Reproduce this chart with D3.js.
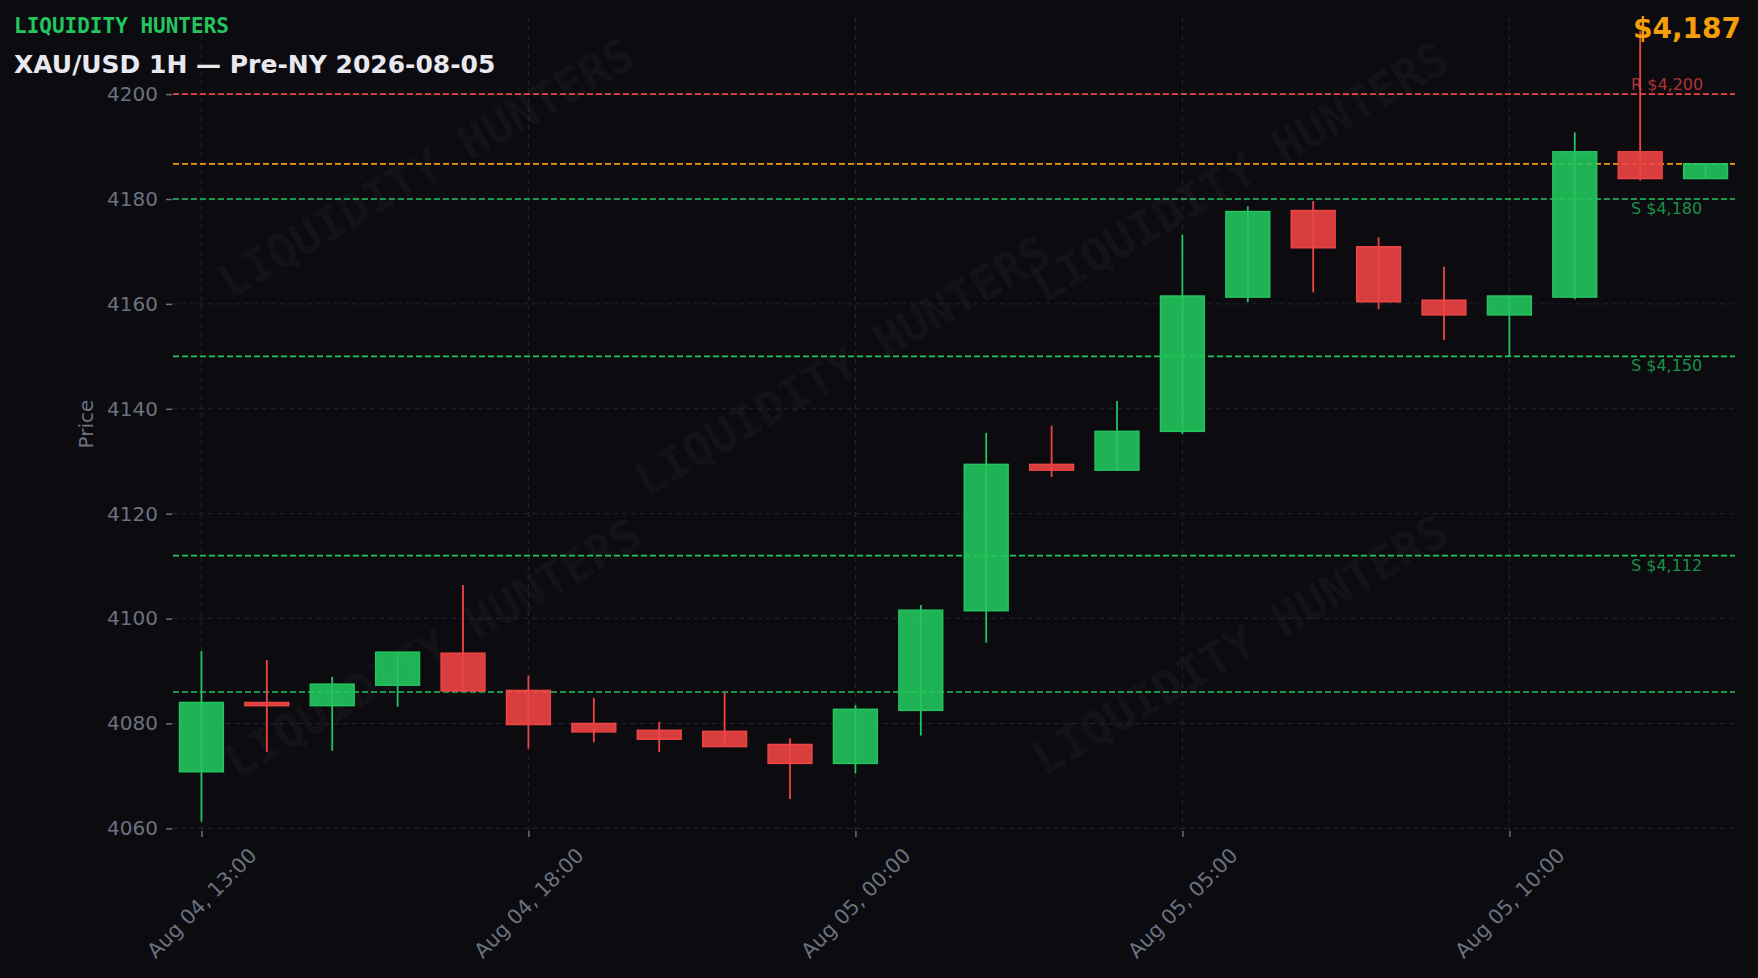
<!DOCTYPE html>
<html>
<head>
<meta charset="utf-8">
<script src="https://cdn.jsdelivr.net/npm/d3@7"></script>
<style>
  html, body { margin: 0; padding: 0; background: #0b0b10; }
  svg { display: block; }
</style>
</head>
<body>
<svg id="chart" width="1758" height="978"></svg>
<script>
// ---------------- DATA ----------------
const times = [
  "Aug 04, 13:00", "Aug 04, 14:00", "Aug 04, 15:00", "Aug 04, 16:00", "Aug 04, 17:00",
  "Aug 04, 18:00", "Aug 04, 19:00", "Aug 04, 20:00", "Aug 04, 22:00", "Aug 04, 23:00",
  "Aug 05, 00:00", "Aug 05, 01:00", "Aug 05, 02:00", "Aug 05, 03:00", "Aug 05, 04:00",
  "Aug 05, 05:00", "Aug 05, 06:00", "Aug 05, 07:00", "Aug 05, 08:00", "Aug 05, 09:00",
  "Aug 05, 10:00", "Aug 05, 11:00", "Aug 05, 12:00", "Aug 05, 13:00"
];
const openP  = [4070.8, 4084.0, 4083.4, 4087.3, 4093.4, 4086.3, 4080.0, 4078.7, 4078.5, 4076.0, 4072.4, 4082.5, 4101.5, 4129.4, 4128.3, 4135.7, 4161.3, 4177.8, 4170.9, 4160.7, 4157.9, 4161.3, 4189.0, 4183.9];
const closeP = [4084.0, 4083.4, 4087.5, 4093.6, 4086.2, 4079.8, 4078.4, 4077.0, 4075.6, 4072.4, 4082.7, 4101.6, 4129.4, 4128.3, 4135.7, 4161.5, 4177.6, 4170.7, 4160.4, 4157.9, 4161.5, 4189.0, 4183.9, 4186.7];
const highP  = [4093.8, 4092.1, 4088.9, 4093.6, 4106.4, 4089.1, 4084.9, 4080.3, 4085.9, 4077.2, 4083.5, 4102.6, 4135.4, 4136.8, 4141.5, 4173.2, 4178.6, 4179.6, 4172.7, 4167.1, 4161.5, 4192.7, 4212.0, 4186.7];
const lowP   = [4061.3, 4074.6, 4074.8, 4083.2, 4086.2, 4075.2, 4076.4, 4074.6, 4075.6, 4065.6, 4070.5, 4077.7, 4095.4, 4127.0, 4128.3, 4135.2, 4160.3, 4162.2, 4159.0, 4153.1, 4150.0, 4160.9, 4183.5, 4183.9];

const yTicks = [4060, 4080, 4100, 4120, 4140, 4160, 4180, 4200];
const xTickLabels = ["Aug 04, 13:00", "Aug 04, 18:00", "Aug 05, 00:00", "Aug 05, 05:00", "Aug 05, 10:00"];

const levelValues = [4200, 4180, 4150, 4112, 4086];
const levelKinds  = ["R", "S", "S", "S", "S"];
const levelLabels = ["R $4,200", "S $4,180", "S $4,150", "S $4,112", ""];
const currentPrice = 4186.7;
const currentPriceLabel = "$4,187";

const brandText = "LIQUIDITY HUNTERS";
const titleText = "XAU/USD 1H \u2014 Pre-NY 2026-08-05";
const yAxisTitle = "Price";
const watermarkCenters = [[426, 168], [842, 366], [1240, 172], [433, 648], [1240, 645]];

// ---------------- STYLE ----------------
const W = 1758, H = 978;
const plot = { left: 172, right: 1735, top: 17, bottom: 831 };
const C = {
  bg: "#0b0b10", grid: "#25252f", axis: "#6b7280",
  up: "#22c55e", down: "#ef4444", orange: "#f59e0b", title: "#e8e8ee"
};
const sans = "'DejaVu Sans', 'Liberation Sans', sans-serif";
const mono = "'DejaVu Sans Mono', 'Liberation Mono', monospace";

const svg = d3.select("#chart");
svg.append("rect").attr("width", W).attr("height", H).attr("fill", C.bg);

const x = d3.scalePoint().domain(times).range([plot.left, plot.right]).padding(0.45);
const y = d3.scaleLinear().domain([4059.5, 4214.7]).range([plot.bottom, plot.top]);
const step = x.step();
const bodyW = step * 0.67;

const candles = times.map((t, i) => ({ t, o: openP[i], c: closeP[i], h: highP[i], l: lowP[i] }));

// watermarks
const wm = svg.append("g");
watermarkCenters.forEach(([cx, cy]) => {
  wm.append("text")
    .attr("transform", `translate(${cx},${cy}) rotate(-30)`)
    .attr("text-anchor", "middle").attr("dominant-baseline", "central")
    .attr("font-family", mono).attr("font-weight", "bold").attr("font-size", 46)
    .attr("fill", "#ffffff").attr("fill-opacity", 0.05)
    .text(brandText);
});

// grid - horizontal
const gridG = svg.append("g");
gridG.selectAll("line.hg").data(yTicks).join("line")
  .attr("x1", plot.left).attr("x2", plot.right - 2)
  .attr("y1", d => y(d)).attr("y2", d => y(d))
  .attr("stroke", C.grid).attr("stroke-width", 1).attr("stroke-dasharray", "5,4");
// grid - vertical
gridG.selectAll("line.vg").data(xTickLabels).join("line")
  .attr("x1", d => x(d)).attr("x2", d => x(d))
  .attr("y1", plot.top).attr("y2", plot.bottom)
  .attr("stroke", C.grid).attr("stroke-width", 1).attr("stroke-dasharray", "5,4");

// y axis
const yAxis = d3.axisLeft(y).tickValues(yTicks).tickSize(6).tickPadding(8).tickFormat(d3.format("d"));
const yg = svg.append("g").attr("transform", `translate(${plot.left},0)`).call(yAxis);
yg.select(".domain").remove();
yg.selectAll(".tick line").attr("stroke", C.axis).attr("stroke-width", 1.5);
yg.selectAll(".tick text").attr("fill", C.axis).attr("font-family", sans).attr("font-size", 20);

// x axis
const xAxis = d3.axisBottom(x).tickValues(xTickLabels).tickSize(6).tickFormat(d => d);
const xg = svg.append("g").attr("transform", `translate(0,${plot.bottom})`).call(xAxis);
xg.select(".domain").remove();
xg.selectAll(".tick line").attr("stroke", C.axis).attr("stroke-width", 1.5);
xg.selectAll(".tick text")
  .attr("fill", C.axis).attr("font-family", sans).attr("font-size", 20.5)
  .attr("text-anchor", "middle").attr("dominant-baseline", "central")
  .attr("x", 0).attr("y", 0).attr("dy", null)
  .attr("transform", "translate(0,72) rotate(-45)");

// y axis title
svg.append("text")
  .attr("transform", `translate(86,${(plot.top + plot.bottom) / 2}) rotate(-90)`)
  .attr("text-anchor", "middle").attr("dominant-baseline", "central")
  .attr("font-family", sans).attr("font-size", 20).attr("fill", C.axis)
  .text(yAxisTitle);

// level lines
const lvl = svg.append("g");
levelValues.forEach((v, i) => {
  const col = levelKinds[i] === "R" ? C.down : C.up;
  lvl.append("line")
    .attr("x1", plot.left + 1).attr("x2", plot.right)
    .attr("y1", y(v)).attr("y2", y(v))
    .attr("stroke", col).attr("stroke-width", 1.6).attr("stroke-dasharray", "6,3");
});
lvl.append("line")
  .attr("x1", plot.left + 1).attr("x2", plot.right)
  .attr("y1", y(currentPrice)).attr("y2", y(currentPrice))
  .attr("stroke", C.orange).attr("stroke-width", 1.6).attr("stroke-dasharray", "6,3");

// candles
const cg = svg.append("g");
const cs = cg.selectAll("g.c").data(candles).join("g");
cs.append("line")
  .attr("x1", d => x(d.t)).attr("x2", d => x(d.t))
  .attr("y1", d => y(d.h)).attr("y2", d => y(d.l))
  .attr("stroke", d => d.c >= d.o ? C.up : C.down).attr("stroke-width", 1.8);
cs.append("rect")
  .attr("x", d => x(d.t) - bodyW / 2).attr("width", bodyW)
  .attr("y", d => y(Math.max(d.o, d.c)))
  .attr("height", d => Math.max(1.5, Math.abs(y(d.o) - y(d.c))))
  .attr("fill", d => d.c >= d.o ? C.up : C.down).attr("fill-opacity", 0.9)
  .attr("stroke", d => d.c >= d.o ? C.up : C.down).attr("stroke-width", 1.5);

// level labels
levelValues.forEach((v, i) => {
  if (!levelLabels[i]) return;
  const isR = levelKinds[i] === "R";
  svg.append("text")
    .attr("x", 1631).attr("y", isR ? y(v) - 4 : y(v) + 15)
    .attr("font-family", sans).attr("font-size", 16)
    .attr("fill", isR ? C.down : C.up).attr("fill-opacity", 0.72)
    .text(levelLabels[i]);
});

// headings
svg.append("text").attr("x", 14).attr("y", 33)
  .attr("font-family", mono).attr("font-weight", "bold").attr("font-size", 21)
  .attr("fill", C.up).text(brandText);
svg.append("text").attr("x", 14).attr("y", 73)
  .attr("font-family", sans).attr("font-weight", "bold").attr("font-size", 25)
  .attr("fill", C.title).text(titleText);
svg.append("text").attr("x", 1741).attr("y", 38).attr("text-anchor", "end")
  .attr("font-family", sans).attr("font-weight", "bold").attr("font-size", 28)
  .attr("fill", C.orange).text(currentPriceLabel);
</script>
</body>
</html>
